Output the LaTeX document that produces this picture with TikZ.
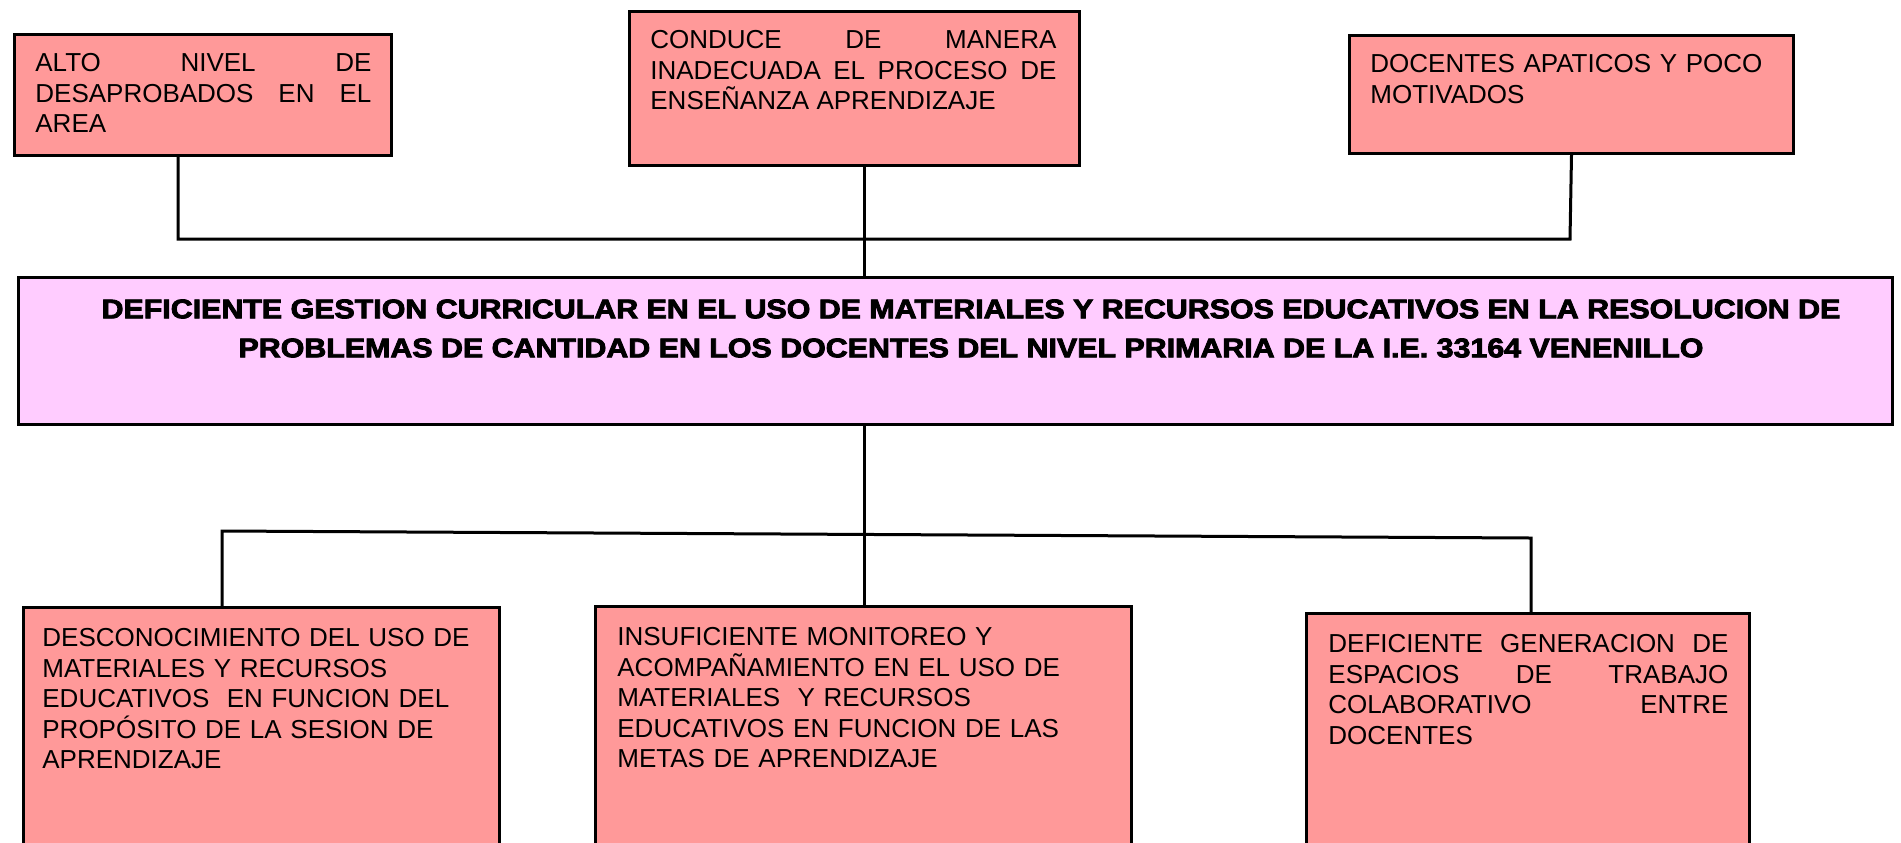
\documentclass[tikz,border=0pt]{standalone}
\usepackage{fontspec}
\setmainfont{Liberation Sans}
\newfontfamily\negrita[FakeBold=3]{Liberation Sans Bold}
\usetikzlibrary{positioning}
\definecolor{rosa}{HTML}{FF9999}
\definecolor{lila}{HTML}{FFCCFF}

\begin{document}
\begin{tikzpicture}[x=0.5pt,y=-0.5pt,
  caja/.style={draw,line width=1.5pt,inner sep=0pt,anchor=north west,fill=rosa},
  texto/.style={inner sep=0pt,anchor=north west,font=\fontsize{13}{15.3}\selectfont},
  linea/.style={line width=1.5pt}]
\useasboundingbox (0,0) rectangle (1901,842);
\clip (0,0) rectangle (1901,842);
\coordinate (eje) at (864,0);
\coordinate (barra1) at (178,239);
\coordinate (barra3) at (1570,239);
\coordinate (rama1) at (222,531);
\coordinate (rama3) at (1531,538);
\node [caja,minimum width=188.5pt,minimum height=60.5pt] (c1) at (13,33) {};
\node [caja,minimum width=225pt,minimum height=77pt] (c2) at (628,10) {};
\node [caja,minimum width=222pt,minimum height=59pt] (c3) at (1348,34) {};
\node [caja,fill=lila,minimum width=937pt,minimum height=73.5pt] (centro) at (17,276) {};
\node [caja,minimum width=238pt,minimum height=147pt] (e1) at (22,606) {};
\node [caja,minimum width=268pt,minimum height=147.5pt] (e2) at (594,605) {};
\node [caja,minimum width=221.5pt,minimum height=144pt] (e3) at (1305,612) {};
\node [texto,align=justify,text width=168pt,below right=10pt and 11pt of c1.north west] (tc1)
  {ALTO NIVEL DE\linebreak DESAPROBADOS EN EL\linebreak AREA};
\node [texto,align=justify,text width=203pt,below right=10pt and 11pt of c2.north west] (tc2)
  {CONDUCE DE MANERA\linebreak INADECUADA EL PROCESO DE\linebreak ENSEÑANZA APRENDIZAJE};
\node [texto,align=left,text width=201pt,below right=10pt and 11pt of c3.north west] (tc3)
  {DOCENTES APATICOS Y POCO\\ MOTIVADOS};
\node [font=\negrita\fontsize{13.5}{19.5}\selectfont,align=center,inner sep=0pt] (tcentro) at (971,328.5)
  {\scalebox{1.125}[1]{DEFICIENTE GESTION CURRICULAR EN EL USO DE MATERIALES Y RECURSOS EDUCATIVOS EN LA RESOLUCION DE}\\
   \scalebox{1.125}[1]{PROBLEMAS DE CANTIDAD EN LOS DOCENTES DEL NIVEL PRIMARIA DE LA I.E. 33164 VENENILLO}};
\node [texto,align=left,text width=218pt,below right=11pt and 10pt of e1.north west] (te1)
  {DESCONOCIMIENTO DEL USO DE\\ MATERIALES Y RECURSOS\\ EDUCATIVOS\ \ EN FUNCION DEL\\ PROPÓSITO DE LA SESION DE\\ APRENDIZAJE};
\node [texto,align=left,text width=240pt,below right=11pt and 11.5pt of e2.north west] (te2)
  {INSUFICIENTE MONITOREO Y\\ ACOMPAÑAMIENTO EN EL USO DE\\ MATERIALES\ \ Y RECURSOS\\ EDUCATIVOS EN FUNCION DE LAS\\ METAS DE APRENDIZAJE};
\node [texto,align=justify,text width=200pt,below right=11pt and 11.5pt of e3.north west] (te3)
  {DEFICIENTE GENERACION DE\linebreak ESPACIOS DE TRABAJO\linebreak COLABORATIVO ENTRE\linebreak DOCENTES};
\draw [linea] (c1.south -| barra1) -- (barra1) -- (barra3) -- (c3.south);
\draw [linea] (c2.south -| eje) -- (centro.north -| eje);
\draw [linea] (centro.south -| eje) -- (e2.north -| eje);
\draw [linea] (e1.north -| rama1) -- (rama1) -- (rama3) -- (e3.north -| rama3);
\end{tikzpicture}
\end{document}
